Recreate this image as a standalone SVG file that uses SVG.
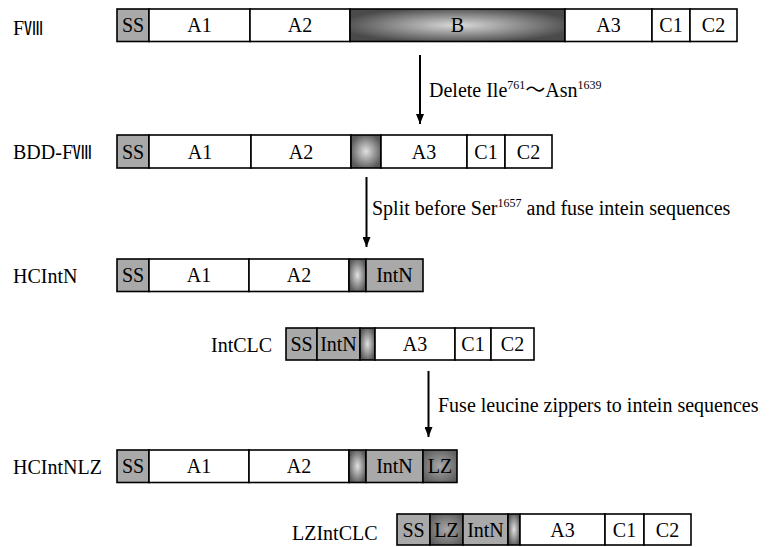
<svg xmlns="http://www.w3.org/2000/svg" width="773" height="547" viewBox="0 0 773 547">
<defs>
<radialGradient id="gB" cx="50%" cy="50%" r="55%"><stop offset="0" stop-color="#dadada"/><stop offset="1" stop-color="#4a4a4a"/></radialGradient>
<radialGradient id="gS" cx="50%" cy="50%" r="55%"><stop offset="0" stop-color="#e0e0e0"/><stop offset="1" stop-color="#5a5a5a"/></radialGradient>
<radialGradient id="gLZ" cx="50%" cy="50%" r="60%"><stop offset="0" stop-color="#a8a8a8"/><stop offset="1" stop-color="#5e5e5e"/></radialGradient>
<marker id="ah" markerWidth="10" markerHeight="8" refX="10" refY="4" orient="auto" markerUnits="userSpaceOnUse" viewBox="0 0 10 8">
<path d="M0,0 L10,4 L0,8 Z" fill="#000"/>
</marker>
</defs>
<style>
.n rect{stroke:#000;stroke-width:1.6}
.w{fill:#fff}
.g{fill:#a9a9a9}
.b{fill:url(#gB)}
.s{fill:url(#gS)}
.lz{fill:url(#gLZ)}
text{font-family:"Liberation Serif","Times New Roman","Noto Sans CJK SC",serif;font-size:20px;fill:#000}
.c{text-anchor:middle}
.sup{font-size:12px}
.cjk{font-family:"Noto Sans CJK SC",sans-serif}
.con line{stroke:#000;stroke-width:2}
</style>
<rect x="0" y="0" width="773" height="547" fill="#fff"/>

<g id="fviii" class="n">
<text x="13" y="35">F<tspan class="cjk" font-size="19">Ⅷ</tspan></text>
<rect class="g" x="117" y="9" width="32" height="32.5"/>
<rect class="w" x="149" y="9" width="101" height="32.5"/>
<rect class="w" x="250" y="9" width="100" height="32.5"/>
<rect class="b" x="350" y="9" width="215" height="32.5"/>
<rect class="w" x="565" y="9" width="87" height="32.5"/>
<rect class="w" x="652" y="9" width="38" height="32.5"/>
<rect class="w" x="690" y="9" width="47" height="32.5"/>
<text class="c" x="133" y="32">SS</text>
<text class="c" x="199.5" y="32">A1</text>
<text class="c" x="300" y="32">A2</text>
<text class="c" x="457.5" y="32">B</text>
<text class="c" x="608.5" y="32">A3</text>
<text class="c" x="671" y="32">C1</text>
<text class="c" x="713.5" y="32">C2</text>
</g>

<g id="bdd-fviii" class="n">
<text x="13" y="159">BDD-F<tspan class="cjk" font-size="19">Ⅷ</tspan></text>
<rect class="g" x="117" y="135" width="32" height="33"/>
<rect class="w" x="149" y="135" width="102" height="33"/>
<rect class="w" x="251" y="135" width="100" height="33"/>
<rect class="s" x="351" y="135" width="30" height="33"/>
<rect class="w" x="381" y="135" width="86" height="33"/>
<rect class="w" x="467" y="135" width="38" height="33"/>
<rect class="w" x="505" y="135" width="47" height="33"/>
<text class="c" x="133" y="158.5">SS</text>
<text class="c" x="200" y="158.5">A1</text>
<text class="c" x="301" y="158.5">A2</text>
<text class="c" x="424" y="158.5">A3</text>
<text class="c" x="486" y="158.5">C1</text>
<text class="c" x="528.5" y="158.5">C2</text>
</g>

<g id="hcintn" class="n">
<text x="13" y="283">HCIntN</text>
<rect class="g" x="117" y="259" width="32" height="32.5"/>
<rect class="w" x="149" y="259" width="100" height="32.5"/>
<rect class="w" x="249" y="259" width="100" height="32.5"/>
<rect class="s" x="349" y="259" width="17" height="32.5"/>
<rect class="g" x="366" y="259" width="57" height="32.5"/>
<text class="c" x="133" y="282">SS</text>
<text class="c" x="199" y="282">A1</text>
<text class="c" x="299" y="282">A2</text>
<text class="c" x="394.5" y="282">IntN</text>
</g>

<g id="intclc" class="n">
<text x="211" y="352">IntCLC</text>
<rect class="g" x="286" y="328" width="31" height="32"/>
<rect class="g" x="317" y="328" width="43" height="32"/>
<rect class="s" x="360" y="328" width="15" height="32"/>
<rect class="w" x="375" y="328" width="80" height="32"/>
<rect class="w" x="455" y="328" width="36" height="32"/>
<rect class="w" x="491" y="328" width="43" height="32"/>
<text class="c" x="301.5" y="351">SS</text>
<text class="c" x="338.5" y="351">IntN</text>
<text class="c" x="415" y="351">A3</text>
<text class="c" x="473" y="351">C1</text>
<text class="c" x="512.5" y="351">C2</text>
</g>

<g id="hcintnlz" class="n">
<text x="13" y="474">HCIntNLZ</text>
<rect class="g" x="117" y="450" width="32" height="32.5"/>
<rect class="w" x="149" y="450" width="100" height="32.5"/>
<rect class="w" x="249" y="450" width="100" height="32.5"/>
<rect class="s" x="349" y="450" width="17" height="32.5"/>
<rect class="g" x="366" y="450" width="57" height="32.5"/>
<rect class="lz" x="423" y="450" width="34" height="32.5"/>
<text class="c" x="133" y="473">SS</text>
<text class="c" x="199" y="473">A1</text>
<text class="c" x="299" y="473">A2</text>
<text class="c" x="394.5" y="473">IntN</text>
<text class="c" x="440" y="473">LZ</text>
</g>

<g id="lzintclc" class="n">
<text x="292" y="540">LZIntCLC</text>
<rect class="g" x="397" y="514" width="33" height="31"/>
<rect class="lz" x="430" y="514" width="33" height="31"/>
<rect class="g" x="463" y="514" width="45" height="31"/>
<rect class="s" x="508" y="514" width="12" height="31"/>
<rect class="w" x="520" y="514" width="85" height="31"/>
<rect class="w" x="605" y="514" width="39" height="31"/>
<rect class="w" x="644" y="514" width="47" height="31"/>
<text class="c" x="413.5" y="537">SS</text>
<text class="c" x="446.5" y="537">LZ</text>
<text class="c" x="485.5" y="537">IntN</text>
<text class="c" x="562.5" y="537">A3</text>
<text class="c" x="624.5" y="537">C1</text>
<text class="c" x="667.5" y="537">C2</text>
</g>

<g class="con" id="connectors">
<line x1="420" y1="55" x2="420" y2="124" marker-end="url(#ah)"/>
<line x1="366.5" y1="177" x2="366.5" y2="247" marker-end="url(#ah)"/>
<line x1="428.5" y1="371" x2="428.5" y2="437" marker-end="url(#ah)"/>
</g>

<g id="labels">
<text x="429" y="97">Delete Ile<tspan class="sup" dy="-8">761</tspan><tspan class="cjk" dy="8">～</tspan>Asn<tspan class="sup" dy="-8">1639</tspan></text>
<text x="372" y="215">Split before Ser<tspan class="sup" dy="-8">1657</tspan><tspan dy="8"> and fuse intein sequences</tspan></text>
<text x="438" y="412">Fuse leucine zippers to intein sequences</text>
</g>
</svg>
